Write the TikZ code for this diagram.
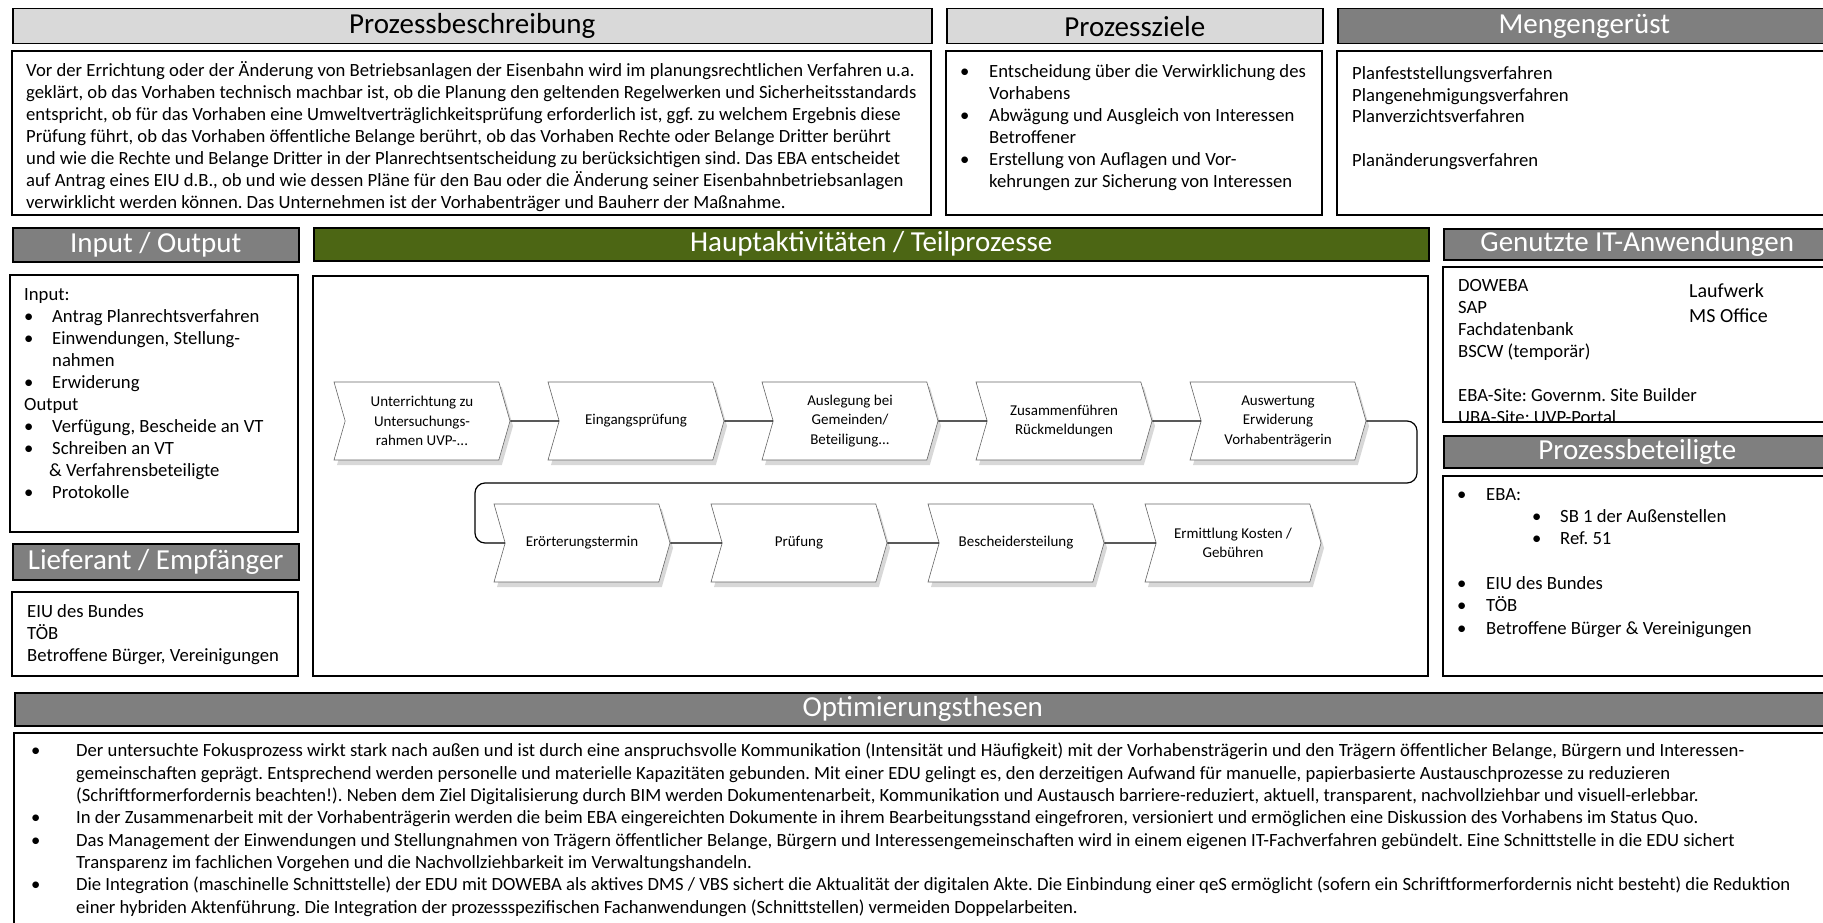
\documentclass[tikz,border=0pt]{standalone}
\usepackage{fontspec}
\setmainfont{Carlito}
\usetikzlibrary{shapes.symbols,shadows}
\definecolor{headlight}{RGB}{217,217,217}
\definecolor{headdark}{RGB}{127,127,127}
\definecolor{headgreen}{RGB}{76,102,20}
\newcommand{\bl}[1]{\makebox[#1pt][l]{\hspace*{-4pt}\textbullet}}
\frenchspacing

\tikzset{
  hdr/.style={draw=black, line width=1.5pt, anchor=north west, inner sep=0pt,
    font=\fontsize{29}{29}\selectfont},
  lighthdr/.style={hdr, fill=headlight, text=black},
  darkhdr/.style={hdr, fill=headdark, text=white},
  greenhdr/.style={hdr, fill=headgreen, text=white},
  bodybox/.style={draw=black, line width=1.3pt, fill=white},
  % anchored at the baseline of the last line
  txt/.style={anchor=base west, inner sep=0pt, align=left,
    font=\fontsize{18.67}{22}\selectfont},
  procstep/.style={shape=signal, signal from=west, signal to=east,
    signal pointer angle=148, draw=black!60, line width=0.6pt, fill=white,
    minimum width=176pt, minimum height=78pt, inner sep=0pt, align=center,
    font=\fontsize{15}{19.5}\selectfont,
    drop shadow={shadow xshift=3pt, shadow yshift=-5pt, fill=black!30}},
  conn/.style={draw=black, line width=1.2pt}
}

\begin{document}
\begin{tikzpicture}[x=1pt, y=-1pt]
\useasboundingbox (0,0) rectangle (1823,923);
\clip (0,0) rectangle (1823,923);

% top row
\node[lighthdr, minimum width=919pt, minimum height=35pt] (pbHead) at (12,8) {Prozessbeschreibung};
\node[lighthdr, minimum width=376pt, minimum height=35pt] (pzHead) at (946,8) {Prozessziele};
\node[darkhdr, minimum width=493pt, minimum height=35pt] (mgHead) at (1337,8) {Mengengerüst};
\draw[bodybox] (12,51) rectangle (931,215);
\draw[bodybox] (946,51) rectangle (1322,215);
\draw[bodybox] (1337,51) rectangle (1830,215);

\node[txt] (pbText) at (26,208) {Vor der Errichtung oder der Änderung von Betriebsanlagen der Eisenbahn wird im planungsrechtlichen Verfahren u.a.\\
geklärt, ob das Vorhaben technisch machbar ist, ob die Planung den geltenden Regelwerken und Sicherheitsstandards\\
entspricht, ob für das Vorhaben eine Umweltverträglichkeitsprüfung erforderlich ist, ggf. zu welchem Ergebnis diese\\
Prüfung führt, ob das Vorhaben öffentliche Belange berührt, ob das Vorhaben Rechte oder Belange Dritter berührt\\
und wie die Rechte und Belange Dritter in der Planrechtsentscheidung zu berücksichtigen sind. Das EBA entscheidet\\
auf Antrag eines EIU d.B., ob und wie dessen Pläne für den Bau oder die Änderung seiner Eisenbahnbetriebsanlagen\\
verwirklicht werden können. Das Unternehmen ist der Vorhabenträger und Bauherr der Maßnahme.};

\node[txt] (pzText) at (964,187) {\bl{25}Entscheidung über die Verwirklichung des\\
\hspace*{25pt}Vorhabens\\
\bl{25}Abwägung und Ausgleich von Interessen\\
\hspace*{25pt}Betroffener\\
\bl{25}Erstellung von Auflagen und Vor-\\
\hspace*{25pt}kehrungen zur Sicherung von Interessen};

\node[txt] (mgText) at (1352,167) {Planfeststellungsverfahren\\
Plangenehmigungsverfahren\\
Planverzichtsverfahren\\[22pt]
Planänderungsverfahren};

% middle row, left
\node[darkhdr, minimum width=286pt, minimum height=34pt] (ioHead) at (12,227) {Input / Output};
\draw[bodybox] (10,275) rectangle (298,532);
\node[txt] (ioText) at (24,498) {Input:\\
\hspace*{4pt}\bl{24}Antrag Planrechtsverfahren\\
\hspace*{4pt}\bl{24}Einwendungen, Stellung-\\
\hspace*{28pt}nahmen\\
\hspace*{4pt}\bl{24}Erwiderung\\
Output\\
\hspace*{4pt}\bl{24}Verfügung, Bescheide an VT\\
\hspace*{4pt}\bl{24}Schreiben an VT\\
\hspace*{25pt}\& Verfahrensbeteiligte\\
\hspace*{4pt}\bl{24}Protokolle};

\node[darkhdr, minimum width=286pt, minimum height=36pt] (lfHead) at (12,543) {Lieferant / Empfänger};
\draw[bodybox] (12,592) rectangle (298,676);
\node[txt] (lfText) at (27,661) {EIU des Bundes\\
TÖB\\
Betroffene Bürger, Vereinigungen};

% middle row, process
\node[greenhdr, minimum width=1115pt, minimum height=33pt] (haHead) at (313,227) {Hauptaktivitäten / Teilprozesse};
\draw[bodybox] (313,276) rectangle (1428,676);

\node[procstep] (s1) at (422,421) {Unterrichtung zu\\Untersuchungs-\\rahmen UVP-...};
\node[procstep] (s2) at (636,421) {Eingangsprüfung};
\node[procstep] (s3) at (850,421) {Auslegung bei\\Gemeinden/\\Beteiligung...};
\node[procstep] (s4) at (1064,421) {Zusammenführen\\Rückmeldungen};
\node[procstep] (s5) at (1278,421) {Auswertung\\Erwiderung\\Vorhabenträgerin};
\node[procstep] (t1) at (582,543) {Erörterungstermin};
\node[procstep] (t2) at (799,543) {Prüfung};
\node[procstep] (t3) at (1016,543) {Bescheidersteilung};
\node[procstep] (t4) at (1233,543) {Ermittlung Kosten /\\Gebühren};

\foreach \a/\b in {s1/s2,s2/s3,s3/s4,s4/s5,t1/t2,t2/t3,t3/t4}
  \draw[conn] (\a) -- (\b);
\coordinate (loopR) at (1417,483);
\coordinate (loopL) at (475,483);
\draw[conn, rounded corners=10pt] (s5) -| (loopR) -- (loopL) |- (t1);

% middle row, right
\node[darkhdr, minimum width=387pt, minimum height=31pt] (itHead) at (1443,228) {Genutzte IT-Anwendungen};
\draw[bodybox] (1443,267) rectangle (1830,422);
\begin{scope}
  \clip (1443,267) rectangle (1830,422);
  \node[txt] (itText) at (1458,423) {DOWEBA\\
  SAP\\
  Fachdatenbank\\
  BSCW (temporär)\\[22pt]
  EBA-Site: Governm. Site Builder\\
  UBA-Site: UVP-Portal};
\end{scope}
\node[txt, font=\fontsize{20}{25}\selectfont] (itMore) at (1689,322) {Laufwerk\\MS Office};

\node[darkhdr, minimum width=387pt, minimum height=32pt] (pbtHead) at (1443,435) {Prozessbeteiligte};
\draw[bodybox] (1443,476) rectangle (1830,676);
\node[txt, font=\fontsize{18.67}{22.3}\selectfont] (pbtText) at (1461,634) {\bl{25}EBA:\\
\hspace*{75pt}\bl{24}SB 1 der Außenstellen\\
\hspace*{75pt}\bl{24}Ref. 51\\[22.3pt]
\bl{25}EIU des Bundes\\
\bl{25}TÖB\\
\bl{25}Betroffene Bürger \& Vereinigungen};

% bottom row
\node[darkhdr, minimum width=1816pt, minimum height=33pt] (otHead) at (14,692) {Optimierungsthesen};
\draw[bodybox] (14,733) rectangle (1830,935);
\node[txt, font=\fontsize{18.67}{22.3}\selectfont] (otText) at (35,913) {\bl{41}Der untersuchte Fokusprozess wirkt stark nach außen und ist durch eine anspruchsvolle Kommunikation (Intensität und Häufigkeit) mit der Vorhabensträgerin und den Trägern öffentlicher Belange, Bürgern und Interessen-\\
\hspace*{41pt}gemeinschaften geprägt. Entsprechend werden personelle und materielle Kapazitäten gebunden. Mit einer EDU gelingt es, den derzeitigen Aufwand für manuelle, papierbasierte Austauschprozesse zu reduzieren\\
\hspace*{41pt}(Schriftformerfordernis beachten!). Neben dem Ziel Digitalisierung durch BIM werden Dokumentenarbeit, Kommunikation und Austausch barriere-reduziert, aktuell, transparent, nachvollziehbar und visuell-erlebbar.\\
\bl{41}In der Zusammenarbeit mit der Vorhabenträgerin werden die beim EBA eingereichten Dokumente in ihrem Bearbeitungsstand eingefroren, versioniert und ermöglichen eine Diskussion des Vorhabens im Status Quo.\\
\bl{41}Das Management der Einwendungen und Stellungnahmen von Trägern öffentlicher Belange, Bürgern und Interessengemeinschaften wird in einem eigenen IT-Fachverfahren gebündelt. Eine Schnittstelle in die EDU sichert\\
\hspace*{41pt}Transparenz im fachlichen Vorgehen und die Nachvollziehbarkeit im Verwaltungshandeln.\\
\bl{41}Die Integration (maschinelle Schnittstelle) der EDU mit DOWEBA als aktives DMS / VBS sichert die Aktualität der digitalen Akte. Die Einbindung einer qeS ermöglicht (sofern ein Schriftformerfordernis nicht besteht) die Reduktion\\
\hspace*{41pt}einer hybriden Aktenführung. Die Integration der prozessspezifischen Fachanwendungen (Schnittstellen) vermeiden Doppelarbeiten.};
\end{tikzpicture}
\end{document}
